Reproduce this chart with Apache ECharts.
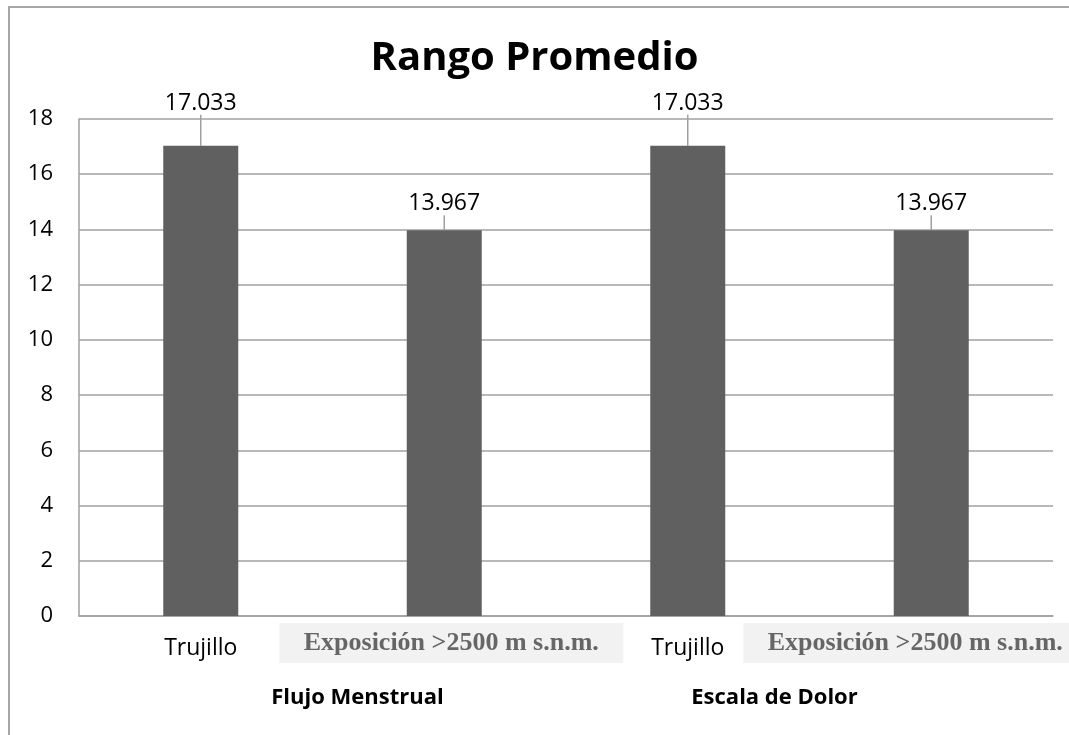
<!DOCTYPE html>
<html>
<head>
<meta charset="utf-8">
<script src="https://cdn.jsdelivr.net/npm/echarts@6/dist/echarts.min.js"></script>
<style>
  html, body { margin: 0; padding: 0; background: #fff; }
  #main { width: 1069px; height: 735px; }
</style>
</head>
<body>
<div id="main"></div>
<script>
// datos
const categorias = ['Trujillo', 'Exposición >2500 m s.n.m.', 'Trujillo', 'Exposición >2500 m s.n.m.'];
const grupos = ['Flujo Menstrual', 'Escala de Dolor'];
const valores = [17.033, 13.967, 17.033, 13.967];
const etiquetas = ['17.033', '13.967', '17.033', '13.967'];

const chart = echarts.init(document.getElementById('main'));
const gris = '#a0a0a0';

// pequeños desplazamientos de las etiquetas del eje (como en el original)
const desplaz = [[0, 0, 0, 0], [0, 0, 0, 14], [0, 0, 0, 0], [0, 32, 0, 0]];

const option = {
  animation: false,
  textStyle: { fontFamily: 'Open Sans' },
  title: {
    text: 'Rango Promedio',
    left: 'center',
    top: 34,
    textStyle: { fontSize: 40, fontWeight: 'bold', color: '#000', fontFamily: 'Open Sans' }
  },
  graphic: [{
    type: 'rect',
    shape: { x: 9, y: 7, width: 1200, height: 900 },
    style: { fill: null, stroke: '#a6a6a6', lineWidth: 2 },
    silent: true
  }],
  grid: { left: 79, right: 16, top: 119, bottom: 119, outerBoundsMode: 'none', containLabel: false },
  xAxis: [{
    type: 'category',
    data: categorias.map(function (c, i) {
      return { value: c, textStyle: { padding: desplaz[i] } };
    }),
    axisLine: { lineStyle: { color: gris, width: 1.5 } },
    axisTick: { show: false },
    axisLabel: {
      interval: 0,
      margin: 7,
      hideOverlap: false,
      formatter: function (v) {
        return v === 'Trujillo' ? '{a|' + v + '}' : '{b|' + v + '}';
      },
      rich: {
        a: { fontSize: 23, color: '#000', fontFamily: 'Open Sans', padding: [14, 0, 6, 0] },
        b: {
          fontSize: 26, color: '#666', fontWeight: 'bold', fontFamily: 'Liberation Serif',
          backgroundColor: '#f2f2f2', width: 344, align: 'center', padding: [7, 0, 7, 0]
        }
      }
    }
  }, {
    type: 'category',
    data: [
      { value: grupos[0], textStyle: { padding: [0, 0, 0, 70] } },
      { value: grupos[1], textStyle: { padding: [0, 70, 0, 0] } }
    ],
    position: 'bottom',
    axisLine: { show: false },
    axisTick: { show: false },
    splitLine: { show: false },
    axisLabel: { interval: 0, margin: 71, fontSize: 22, fontWeight: 'bold', color: '#000', fontFamily: 'Open Sans' }
  }],
  yAxis: {
    type: 'value',
    min: 0,
    max: 18,
    interval: 2,
    axisLine: { show: true, lineStyle: { color: gris, width: 1.5 } },
    axisTick: { show: false },
    splitLine: { lineStyle: { color: gris, width: 1.5 } },
    axisLabel: { fontSize: 22, color: '#000', margin: 26, fontFamily: 'Open Sans' }
  },
  series: [{
    type: 'bar',
    xAxisIndex: 0,
    data: valores,
    barWidth: 75,
    itemStyle: { color: '#606060' },
    label: {
      show: true,
      position: 'top',
      distance: 15,
      fontSize: 23,
      color: '#000',
      fontFamily: 'Open Sans',
      formatter: function (p) { return etiquetas[p.dataIndex]; }
    },
    labelLayout: function (p) {
      return p.dataIndex % 2 === 0 ? { dy: -16 } : {};
    },
    labelLine: { show: true, lineStyle: { color: gris, width: 1.5 } }
  }]
};

chart.setOption(option);
</script>
</body>
</html>
